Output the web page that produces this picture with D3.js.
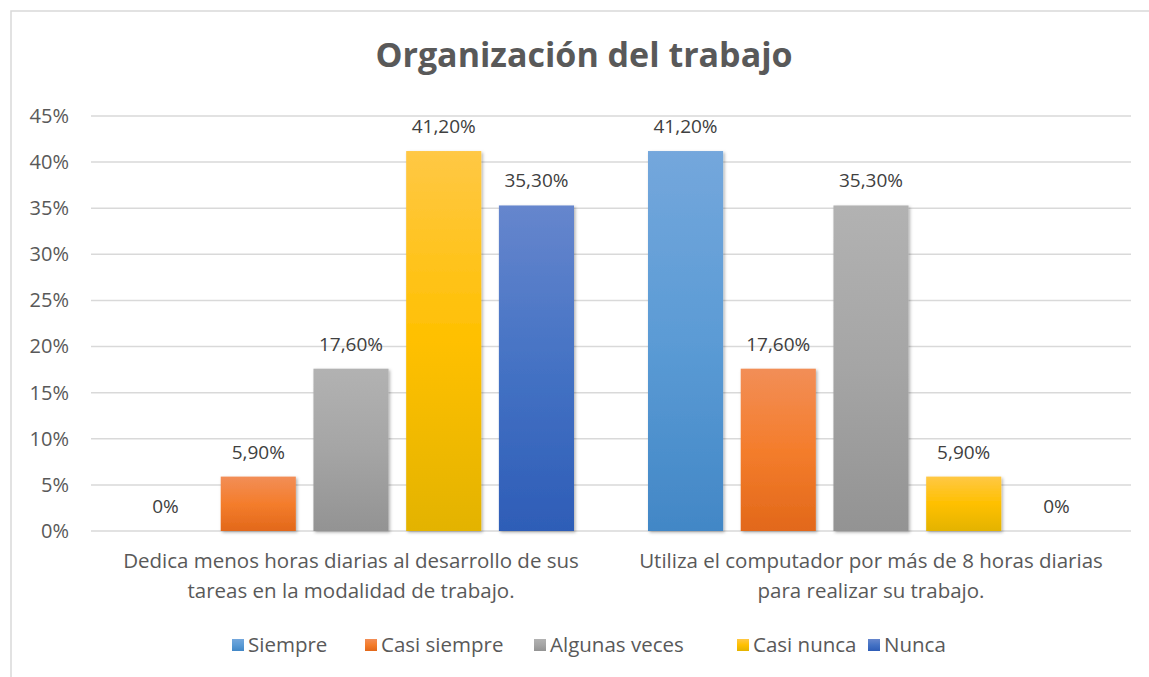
<!DOCTYPE html>
<html>
<head>
<meta charset="utf-8">
<script src="https://cdn.jsdelivr.net/npm/d3@7"></script>
<style>
  body { margin: 0; background: #fff; }
  text { font-family: "Open Sans", sans-serif; }
</style>
</head>
<body>
<div id="container"></div>
<script>
// data
var categories = ["Dedica menos horas diarias al desarrollo de sus|tareas en la modalidad de trabajo.",
    "Utiliza el computador por más de 8 horas diarias|para realizar su trabajo."];
var series = ["Siempre", "Casi siempre", "Algunas veces", "Casi nunca", "Nunca"];
var dedica = [0, 5.9, 17.6, 41.2, 35.3];
var utiliza = [41.2, 17.6, 35.3, 5.9, 0];
var valueLabels = [["0%", "5,90%", "17,60%", "41,20%", "35,30%"],
    ["41,20%", "17,60%", "35,30%", "5,90%", "0%"]];
var yTicks = [0, 5, 10, 15, 20, 25, 30, 35, 40, 45];

// gradient stops per series: light top, base middle, darker bottom
var colors = [
    ["#74a7dc", "#5b9bd5", "#4287c6"],
    ["#f28e57", "#f47d2c", "#e2681a"],
    ["#b2b2b2", "#a5a5a5", "#939393"],
    ["#ffc845", "#ffc000", "#e3b300"],
    ["#6686cd", "#4472c4", "#2e5db7"]
];

var width = 1149, height = 677;
var margin = { top: 116, bottom: 531, left: 91, right: 1131 };

var svg = d3.select("#container").append("svg")
    .attr("width", width)
    .attr("height", height);

var defs = svg.append("defs");
colors.forEach(function (c, i) {
    var g = defs.append("linearGradient")
        .attr("id", "grad" + i)
        .attr("x1", 0).attr("y1", 0).attr("x2", 0).attr("y2", 1);
    g.append("stop").attr("offset", "0%").attr("stop-color", c[0]);
    g.append("stop").attr("offset", "50%").attr("stop-color", c[1]);
    g.append("stop").attr("offset", "100%").attr("stop-color", c[2]);
});
var f = defs.append("filter").attr("id", "shadow")
    .attr("x", "-10%").attr("y", "-10%").attr("width", "130%").attr("height", "130%");
f.append("feDropShadow").attr("dx", 1.5).attr("dy", 1.5)
    .attr("stdDeviation", 1.5).attr("flood-color", "#000").attr("flood-opacity", 0.3);

// chart border (only left/top edge fall inside the picture)
svg.append("rect")
    .attr("x", 11).attr("y", 11)
    .attr("width", 1160).attr("height", 700)
    .attr("fill", "none")
    .attr("stroke", "#d9d9d9")
    .attr("stroke-width", 1.5);

// title
svg.append("text")
    .attr("x", 584).attr("y", 67)
    .attr("text-anchor", "middle")
    .style("font-size", "34px")
    .style("font-weight", "bold")
    .style("fill", "#595959")
    .text("Organización del trabajo");

var y = d3.scaleLinear().domain([0, 45]).range([margin.bottom, margin.top]);
var x0 = d3.scaleBand().domain(categories).range([margin.left, margin.right]);
var x1 = d3.scaleBand().domain(series).range([37, x0.bandwidth() - 37]).paddingInner(0.19);

// gridlines
svg.append("g")
    .selectAll("line")
    .data(yTicks)
    .enter().append("line")
    .attr("x1", margin.left).attr("x2", margin.right)
    .attr("y1", function (d) { return y(d); })
    .attr("y2", function (d) { return y(d); })
    .attr("stroke", "#d9d9d9")
    .attr("stroke-width", 1.5);

// y axis labels
var yAxis = svg.append("g")
    .attr("transform", "translate(" + (margin.left - 22) + ",0)")
    .call(d3.axisLeft(y).tickValues(yTicks).tickSize(0).tickPadding(0)
        .tickFormat(function (d) { return d + "%"; }));
yAxis.select(".domain").remove();
yAxis.selectAll("text")
    .style("font-family", "'Open Sans', sans-serif")
    .style("font-size", "20px")
    .style("fill", "#595959");

// bars
var rows = [dedica, utiliza];
var groups = svg.append("g")
    .selectAll("g")
    .data(categories)
    .enter().append("g")
    .attr("transform", function (d) { return "translate(" + x0(d) + ",0)"; });

groups.selectAll("rect")
    .data(function (d, ci) {
        return series.map(function (s, si) { return { s: s, si: si, v: rows[ci][si] }; });
    })
    .enter().append("rect")
    .attr("x", function (d) { return x1(d.s); })
    .attr("y", function (d) { return y(d.v); })
    .attr("width", x1.bandwidth())
    .attr("height", function (d) { return y(0) - y(d.v); })
    .attr("fill", function (d) { return "url(#grad" + d.si + ")"; })
    .attr("filter", function (d) { return d.v > 0 ? "url(#shadow)" : null; });

groups.selectAll(".lbl")
    .data(function (d, ci) {
        return series.map(function (s, si) { return { s: s, v: rows[ci][si], t: valueLabels[ci][si] }; });
    })
    .enter().append("text")
    .attr("class", "lbl")
    .attr("x", function (d) { return x1(d.s) + x1.bandwidth() / 2; })
    .attr("y", function (d) { return y(d.v) - 18; })
    .attr("text-anchor", "middle")
    .style("font-size", "19px")
    .style("fill", "#404040")
    .text(function (d) { return d.t; });

// category labels
groups.append("text")
    .attr("x", x0.bandwidth() / 2)
    .attr("y", 568)
    .attr("text-anchor", "middle")
    .style("font-size", "20.5px")
    .style("fill", "#595959")
    .selectAll("tspan")
    .data(function (d) { return d.split("|"); })
    .enter().append("tspan")
    .attr("x", x0.bandwidth() / 2)
    .attr("dy", function (d, i) { return i === 0 ? 0 : 30; })
    .text(function (d) { return d; });

// legend
var legendX = [232, 365, 534, 737, 868];
var legend = svg.append("g")
    .selectAll("g")
    .data(series)
    .enter().append("g")
    .attr("transform", function (d, i) { return "translate(" + legendX[i] + ",645)"; });
legend.append("rect")
    .attr("x", 0).attr("y", -6)
    .attr("width", 12).attr("height", 12)
    .attr("fill", function (d, i) { return "url(#grad" + i + ")"; });
legend.append("text")
    .attr("x", 16).attr("y", 7)
    .style("font-size", "20.5px")
    .style("fill", "#595959")
    .text(function (d) { return d; });
</script>
</body>
</html>
